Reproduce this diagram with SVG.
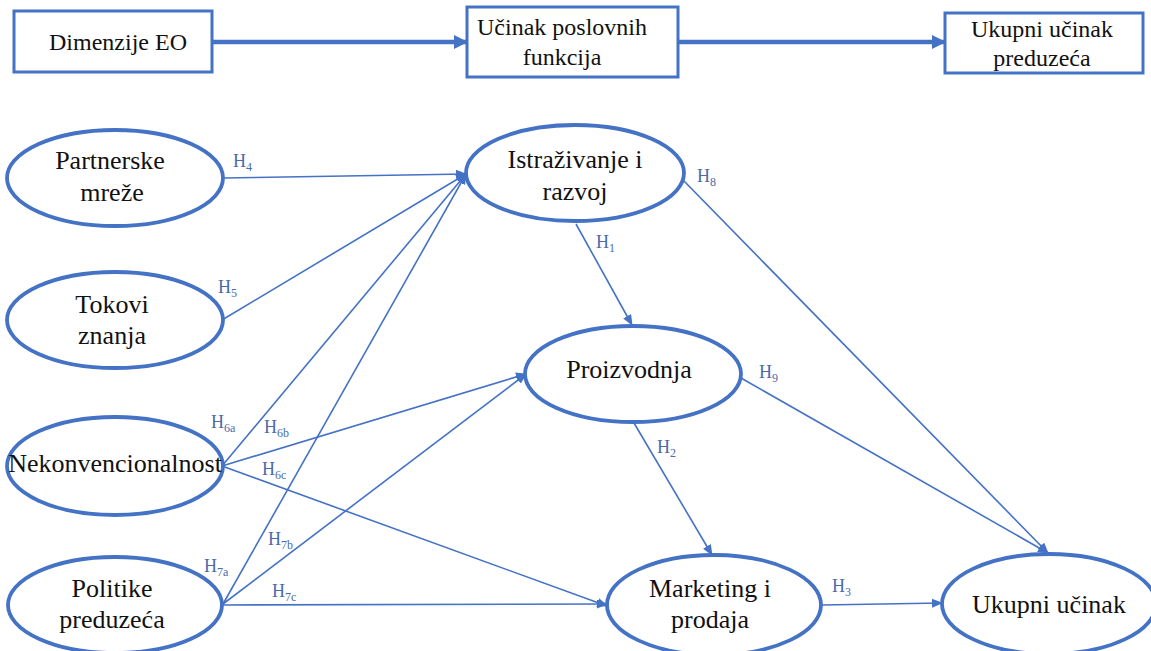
<svg xmlns="http://www.w3.org/2000/svg" width="1151" height="651" viewBox="0 0 1151 651" font-family="Liberation Serif">
<style>
text{font-family:'Liberation Serif','Times New Roman',serif}
.box{fill:#fff;stroke:#4472C4;stroke-width:3}
.ell{fill:#fff;stroke:#4472C4;stroke-width:3.8}
.t{font-size:26px;fill:#111;text-anchor:middle}
.tb{font-size:24px;fill:#111;text-anchor:middle}
.c{stroke:#4472C4;stroke-width:1.6;fill:none;marker-end:url(#ah)}
.ct{stroke:#4472C4;stroke-width:4.5;fill:none;marker-end:url(#ahb)}
.h{font-size:18px;fill:#4A6BA8}
.s{font-size:12px}
</style>
<defs>
<marker id="ah" markerUnits="userSpaceOnUse" markerWidth="11" markerHeight="9" refX="10" refY="4.5" orient="auto"><path d="M0,0 L11,4.5 L0,9 z" fill="#4472C4"/></marker>
<marker id="ahb" markerUnits="userSpaceOnUse" markerWidth="14" markerHeight="14" refX="12" refY="7" orient="auto"><path d="M0,0 L14,7 L0,14 z" fill="#4472C4"/></marker>
</defs>

<g id="connectors">
<line class="ct" x1="212" y1="42" x2="466" y2="42"/>
<line class="ct" x1="678" y1="42" x2="944" y2="42"/>
<line class="c" x1="223" y1="178" x2="466" y2="174"/>
<line class="c" x1="222" y1="320" x2="466" y2="174"/>
<line class="c" x1="222" y1="466" x2="466" y2="174"/>
<line class="c" x1="223" y1="604" x2="466" y2="174"/>
<line class="c" x1="222" y1="466" x2="526" y2="374"/>
<line class="c" x1="223" y1="604" x2="526" y2="374"/>
<line class="c" x1="222" y1="466" x2="607" y2="606"/>
<line class="c" x1="223" y1="605" x2="607" y2="604"/>
<line class="c" x1="576" y1="224" x2="632" y2="325"/>
<line class="c" x1="683" y1="180" x2="1048" y2="553"/>
<line class="c" x1="741" y1="378" x2="1048" y2="553"/>
<line class="c" x1="634" y1="423" x2="712" y2="555"/>
<line class="c" x1="822" y1="605" x2="942" y2="603"/>
</g>

<g id="labels">
<text class="h" x="233" y="167">H<tspan class="s" dy="4">4</tspan></text>
<text class="h" x="218" y="293">H<tspan class="s" dy="4">5</tspan></text>
<text class="h" x="211" y="428">H<tspan class="s" dy="4">6a</tspan></text>
<text class="h" x="264" y="433">H<tspan class="s" dy="4">6b</tspan></text>
<text class="h" x="262" y="475">H<tspan class="s" dy="4">6c</tspan></text>
<text class="h" x="268" y="545">H<tspan class="s" dy="4">7b</tspan></text>
<text class="h" x="204" y="572">H<tspan class="s" dy="4">7a</tspan></text>
<text class="h" x="272" y="597">H<tspan class="s" dy="4">7c</tspan></text>
<text class="h" x="596" y="248">H<tspan class="s" dy="4">1</tspan></text>
<text class="h" x="697" y="182">H<tspan class="s" dy="4">8</tspan></text>
<text class="h" x="759" y="378">H<tspan class="s" dy="4">9</tspan></text>
<text class="h" x="657" y="453">H<tspan class="s" dy="4">2</tspan></text>
<text class="h" x="832" y="592">H<tspan class="s" dy="4">3</tspan></text>
</g>

<g id="box-dimenzije">
<rect class="box" x="14" y="11" width="198" height="61"/>
<text class="tb" x="118" y="50">Dimenzije EO</text>
</g>
<g id="box-ucinak-funkcija">
<rect class="box" x="467" y="7" width="211" height="70"/>
<text class="tb" x="562" y="35">Učinak poslovnih</text>
<text class="tb" x="562" y="65">funkcija</text>
</g>
<g id="box-ukupni-preduzeca">
<rect class="box" x="945" y="13" width="198" height="60"/>
<text class="tb" x="1042" y="37">Ukupni učinak</text>
<text class="tb" x="1042" y="66">preduzeća</text>
</g>

<g id="node-partnerske">
<ellipse class="ell" cx="115" cy="178" rx="108" ry="48"/>
<text class="t" x="110" y="169">Partnerske</text>
<text class="t" x="112" y="201">mreže</text>
</g>
<g id="node-tokovi">
<ellipse class="ell" cx="115" cy="320" rx="108" ry="48"/>
<text class="t" x="112" y="313">Tokovi</text>
<text class="t" x="112" y="344">znanja</text>
</g>
<g id="node-nekonvencionalnost">
<ellipse class="ell" cx="115" cy="466" rx="108" ry="49"/>
<text class="t" x="115" y="472">Nekonvencionalnost</text>
</g>
<g id="node-politike">
<ellipse class="ell" cx="115" cy="605" rx="107" ry="48"/>
<text class="t" x="112" y="597">Politike</text>
<text class="t" x="112" y="628">preduzeća</text>
</g>
<g id="node-istrazivanje">
<ellipse class="ell" cx="575" cy="173" rx="109" ry="48"/>
<text class="t" x="575" y="168">Istraživanje i</text>
<text class="t" x="575" y="200">razvoj</text>
</g>
<g id="node-proizvodnja">
<ellipse class="ell" cx="633" cy="374" rx="108" ry="48"/>
<text class="t" x="629" y="378">Proizvodnja</text>
</g>
<g id="node-marketing">
<ellipse class="ell" cx="714" cy="605" rx="107" ry="50"/>
<text class="t" x="710" y="597">Marketing i</text>
<text class="t" x="710" y="628">prodaja</text>
</g>
<g id="node-ukupni">
<ellipse class="ell" cx="1049" cy="604" rx="107" ry="50"/>
<text class="t" x="1049" y="613">Ukupni učinak</text>
</g>
</svg>
